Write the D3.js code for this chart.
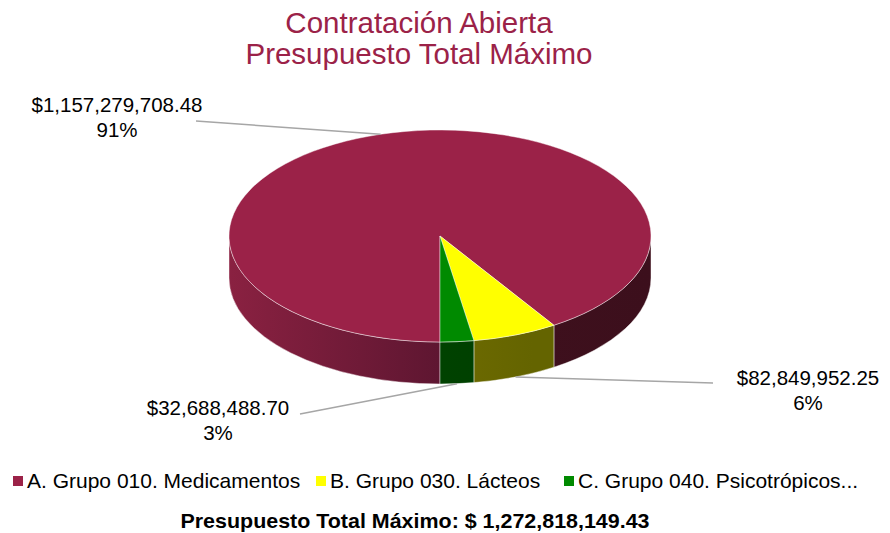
<!DOCTYPE html>
<head>
    <meta charset="utf-8">
    <script src="https://cdn.jsdelivr.net/npm/d3@7/dist/d3.min.js"></script>
    <style>
        body { margin: 0; background: #fff; }
        svg { display: block; font-family: "Liberation Sans", Arial, sans-serif; }
    </style>
</head>
<body>
<script>
    // data
    var categories = ["A. Grupo 010. Medicamentos", "B. Grupo 030. Lácteos", "C. Grupo 040. Psicotrópicos..."];
    var values = [1157279708.48, 82849952.25, 32688488.70];
    var percentLabels = ["91%", "6%", "3%"];
    var titleLines = ["Contratación Abierta", "Presupuesto Total Máximo"];

    var topColors = ["#9b2248", "#ffff00", "#008a00"];
    var sideStops = [
        ["#8a2141", "#5e1631", "#3e101d", "#3c0f1c"],
        ["#877e00", "#6e6b00", "#646400", "#646400"],
        ["#004800", "#004200", "#003e00", "#003e00"]
    ];

    var W = 890, H = 533;
    var cx = 440, cy = 236, rx = 211, ry = 106, depth = 42;

    var svg = d3.select("body").append("svg")
        .attr("width", W).attr("height", H);

    var defs = svg.append("defs");
    sideStops.forEach(function (stops, i) {
        var g = defs.append("linearGradient")
            .attr("id", "side" + i)
            .attr("gradientUnits", "userSpaceOnUse")
            .attr("x1", cx - rx).attr("x2", cx + rx)
            .attr("y1", 0).attr("y2", 0);
        [0, 0.5, 0.72, 1].forEach(function (o, j) {
            g.append("stop").attr("offset", o).attr("stop-color", stops[j]);
        });
    });

    // title
    svg.selectAll(".title").data(titleLines).enter()
        .append("text").attr("class", "title")
        .attr("x", 419)
        .attr("y", function (d, i) { return 33 + i * 31; })
        .attr("text-anchor", "middle")
        .attr("font-size", 29.5)
        .attr("fill", "#9b2248")
        .text(function (d) { return d; });

    var pie = d3.pie().sort(null).startAngle(Math.PI).endAngle(3 * Math.PI);
    var arcs = pie(values);
    var total = d3.sum(values);

    function pt(a, dy) {
        return [cx + rx * Math.sin(a), cy - ry * Math.cos(a) + (dy || 0)];
    }

    function topPath(d) {
        var p0 = pt(d.startAngle), p1 = pt(d.endAngle);
        var large = (d.endAngle - d.startAngle) > Math.PI ? 1 : 0;
        return "M" + cx + "," + cy + "L" + p0 + "A" + rx + "," + ry + " 0 " + large + " 1 " + p1 + "Z";
    }

    function sidePath(s0, s1) {
        var p0 = pt(s0), p1 = pt(s1), q0 = pt(s0, depth), q1 = pt(s1, depth);
        return "M" + p0 + "A" + rx + "," + ry + " 0 0 1 " + p1 +
            "L" + q1 + "A" + rx + "," + ry + " 0 0 0 " + q0 + "Z";
    }

    // front-facing parts of the rim
    var sides = [];
    arcs.forEach(function (d, i) {
        for (var k = 0; k < 2; k++) {
            var lo = Math.PI / 2 + k * 2 * Math.PI, hi = 3 * Math.PI / 2 + k * 2 * Math.PI;
            var s0 = Math.max(d.startAngle, lo), s1 = Math.min(d.endAngle, hi);
            if (s1 > s0) sides.push({ i: i, s0: s0, s1: s1 });
        }
    });

    svg.selectAll(".side").data(sides).enter()
        .append("path").attr("class", "side")
        .attr("d", function (d) { return sidePath(d.s0, d.s1); })
        .attr("fill", function (d) { return "url(#side" + d.i + ")"; })
        .attr("stroke", "rgba(255,255,255,0.55)")
        .attr("stroke-width", 0.8);

    svg.selectAll(".top").data(arcs).enter()
        .append("path").attr("class", "top")
        .attr("d", topPath)
        .attr("fill", function (d, i) { return topColors[i]; })
        .attr("stroke", "rgba(255,255,255,0.55)")
        .attr("stroke-width", 0.8);

    // data labels
    var fmtMoney = d3.format("$,.2f");
    var labelPos = [[117, 112, 196, 121, false], [808, 385, 713, 383, true], [218, 415, 300, 414, true]];

    arcs.forEach(function (d, i) {
        var mid = (d.startAngle + d.endAngle) / 2;
        var lp = labelPos[i];
        var end = pt(mid, lp[4] ? depth : 0);
        svg.append("line")
            .attr("x1", lp[2]).attr("y1", lp[3])
            .attr("x2", end[0]).attr("y2", end[1])
            .attr("stroke", "#a6a6a6").attr("stroke-width", 1.5);
        var t = svg.append("text")
            .attr("text-anchor", "middle")
            .attr("font-size", 20.5)
            .attr("fill", "#000");
        t.append("tspan").attr("x", lp[0]).attr("y", lp[1]).text(fmtMoney(values[i]));
        t.append("tspan").attr("x", lp[0]).attr("y", lp[1] + 25).text(percentLabels[i]);
    });

    // legend
    var legendX = [13, 316, 564];
    var legend = svg.selectAll(".legend").data(categories).enter()
        .append("g").attr("class", "legend")
        .attr("transform", function (d, i) { return "translate(" + legendX[i] + ",476)"; });
    legend.append("rect").attr("width", 10).attr("height", 10)
        .attr("fill", function (d, i) { return topColors[i]; });
    legend.append("text").attr("x", 14).attr("y", 12)
        .attr("font-size", 21).attr("fill", "#000")
        .text(function (d) { return d; });

    // total
    svg.append("text")
        .attr("transform", "translate(415,528) scale(1.1,1)")
        .attr("text-anchor", "middle")
        .attr("font-size", 19.5)
        .attr("font-weight", "bold")
        .text("Presupuesto Total Máximo: $ " + d3.format(",.2f")(total));
</script>
</body>
